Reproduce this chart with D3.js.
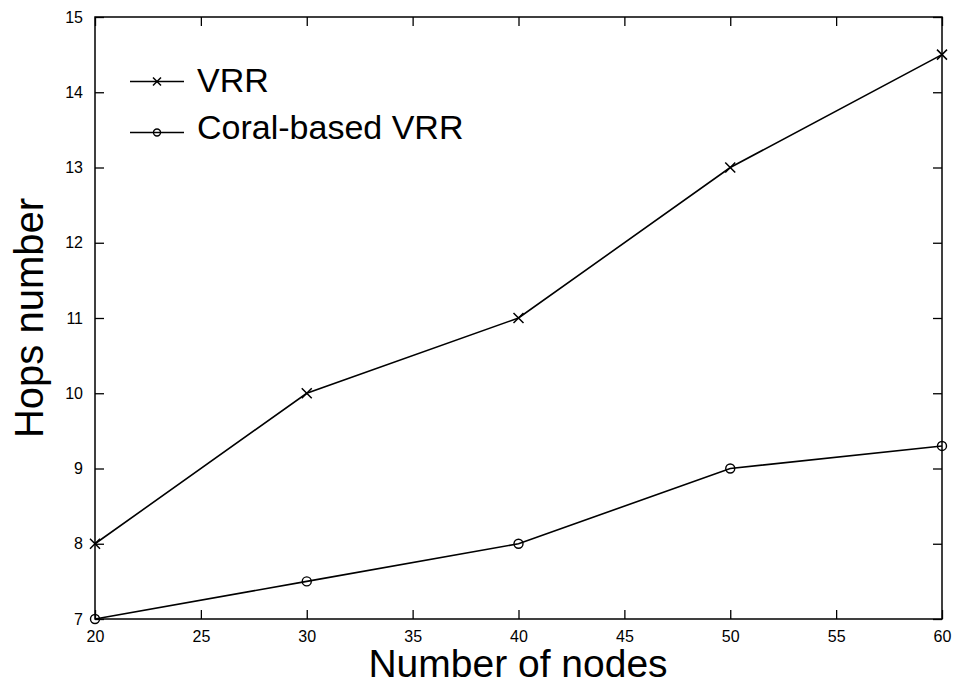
<!DOCTYPE html>
<html>
<head>
<meta charset="utf-8">
<script src="https://cdn.jsdelivr.net/npm/d3@7"></script>
<style>
  body { margin: 0; background: #fff; }
  text { font-family: "Liberation Sans", Arial, sans-serif; fill: #000; }
</style>
</head>
<body>
<div id="chart"></div>
<script>
// data
const nodes = [20, 30, 40, 50, 60];
const vrr = [8, 10, 11, 13, 14.5];
const coral = [7, 7.5, 8, 9, 9.3];
const xTicks = [20, 25, 30, 35, 40, 45, 50, 55, 60];
const yTicks = [7, 8, 9, 10, 11, 12, 13, 14, 15];

const width = 957, height = 684;
// plot frame edges (window.top is taken, so prefix them)
const pLeft = 95, pRight = 942, pTop = 17, pBottom = 619;

const svg = d3.select('#chart').append('svg')
  .attr('width', width)
  .attr('height', height);

const x = d3.scaleLinear().domain([20, 60]).range([pLeft, pRight]);
const y = d3.scaleLinear().domain([7, 15]).range([pBottom, pTop]);

// frame
svg.append('rect')
  .attr('x', pLeft).attr('y', pTop)
  .attr('width', pRight - pLeft).attr('height', pBottom - pTop)
  .attr('fill', 'none').attr('stroke', '#000').attr('stroke-width', 1.5);

// axes, ticks pointing inward on all four sides
const tickLen = 9;
const bottomAxis = svg.append('g').attr('transform', `translate(0,${pBottom})`)
  .call(d3.axisBottom(x).tickValues(xTicks).tickSizeInner(-tickLen).tickSizeOuter(0).tickPadding(12));
const leftAxis = svg.append('g').attr('transform', `translate(${pLeft},0)`)
  .call(d3.axisLeft(y).tickValues(yTicks).tickSizeInner(-tickLen).tickSizeOuter(0).tickPadding(12));
const topAxis = svg.append('g').attr('transform', `translate(0,${pTop})`)
  .call(d3.axisTop(x).tickValues(xTicks).tickSizeInner(-tickLen).tickSizeOuter(0).tickFormat(''));
const rightAxis = svg.append('g').attr('transform', `translate(${pRight},0)`)
  .call(d3.axisRight(y).tickValues(yTicks).tickSizeInner(-tickLen).tickSizeOuter(0).tickFormat(''));

[bottomAxis, leftAxis, topAxis, rightAxis].forEach(g => {
  g.select('.domain').remove();
  g.selectAll('line').attr('stroke', '#000').attr('stroke-width', 1.3);
  g.selectAll('text').style('font-size', '16px').attr('fill', '#000');
});

// axis titles
svg.append('text')
  .attr('x', 518).attr('y', 677)
  .attr('text-anchor', 'middle')
  .style('font-size', '39px')
  .text('Number of nodes');

svg.append('text')
  .attr('transform', `translate(43,318) rotate(-90)`)
  .attr('text-anchor', 'middle')
  .style('font-size', '40px')
  .text('Hops number');

// lines
const line = d3.line().x((d, i) => x(nodes[i])).y(d => y(d));

function drawCross(g, cx, cy, r) {
  g.append('path')
    .attr('d', `M${cx - r},${cy - r}L${cx + r},${cy + r}M${cx - r},${cy + r}L${cx + r},${cy - r}`)
    .attr('stroke', '#000').attr('stroke-width', 1.5);
}
function drawCircle(g, cx, cy, r) {
  g.append('circle').attr('cx', cx).attr('cy', cy).attr('r', r)
    .attr('fill', 'none').attr('stroke', '#000').attr('stroke-width', 1.4);
}

svg.append('path').datum(vrr).attr('d', line)
  .attr('fill', 'none').attr('stroke', '#000').attr('stroke-width', 1.6);
svg.append('path').datum(coral).attr('d', line)
  .attr('fill', 'none').attr('stroke', '#000').attr('stroke-width', 1.6);

const marks = svg.append('g');
vrr.forEach((v, i) => drawCross(marks, x(nodes[i]), y(v), 5));
coral.forEach((v, i) => drawCircle(marks, x(nodes[i]), y(v), 4.5));

// legend
const legend = [
  { name: 'VRR', mark: 'cross', ly: 81.5, ty: 92 },
  { name: 'Coral-based VRR', mark: 'circle', ly: 132.5, ty: 138.5 }
];
legend.forEach(d => {
  svg.append('line').attr('x1', 130).attr('x2', 184).attr('y1', d.ly).attr('y2', d.ly)
    .attr('stroke', '#000').attr('stroke-width', 1.3);
  if (d.mark === 'cross') drawCross(svg, 157, d.ly, 4);
  else drawCircle(svg, 157, d.ly, 3.5);
  svg.append('text').attr('x', 197).attr('y', d.ty)
    .style('font-size', '34px').text(d.name);
});
</script>
</body>
</html>
